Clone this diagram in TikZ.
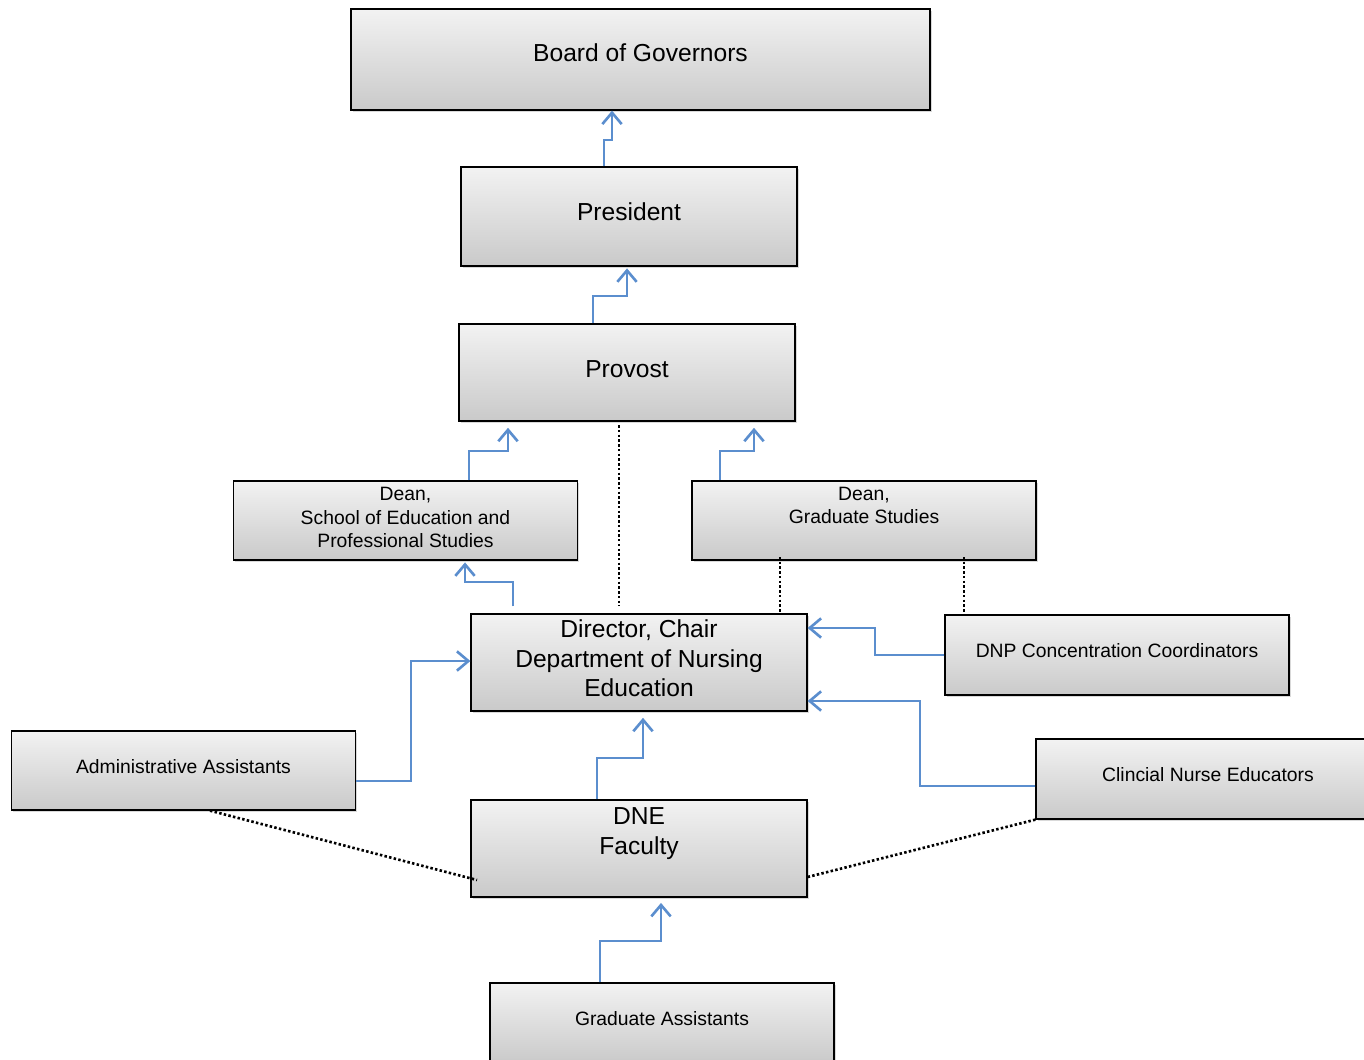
\documentclass[tikz,border=0pt]{standalone}
\usepackage{fontspec}
\setmainfont{Liberation Sans}
\usetikzlibrary{arrows.meta,shadows}

\definecolor{linkblue}{RGB}{91,142,206}

\begin{document}
\begin{tikzpicture}[
    x=0.02cm, y=-0.02cm,
    box/.style={rectangle, draw, line width=0.75pt, top color=black!5, bottom color=black!21,
        drop shadow={shadow xshift=0.9pt, shadow yshift=-0.9pt, opacity=0.3},
        align=center, inner sep=0pt},
    bigbox/.style={box, minimum width=6.72cm, minimum height=1.94cm, font=\fontsize{14}{16.8}\selectfont},
    smallbox/.style={box, minimum width=6.88cm, minimum height=1.58cm, text depth=4.6pt, font=\fontsize{11}{13.2}\selectfont},
    link/.style={draw=linkblue, line width=0.85pt, -{Straight Barb[length=6.5pt, width=11pt, line width=1.5pt]}},
    tie/.style={draw, line width=1.5pt, dash pattern=on 1.4pt off 1.3pt},
]
    \useasboundingbox (0,0) rectangle (1364,1060);
    \clip (0,0) rectangle (1364,1060);

    % boxes
    \node[bigbox, minimum width=11.58cm, minimum height=2.02cm, text depth=8pt] (board) at (640.5,59.5) {Board of Governors};
    \node[bigbox, minimum height=1.98cm, text depth=5.7pt] (president) at (629,216.5) {President};
    \node[bigbox, text depth=3.4pt] (provost) at (627,372.5) {Provost};
    \node[smallbox, text depth=3.4pt] (deanedu) at (405.5,520.5) {Dean,\\School of Education and\\Professional Studies};
    \node[smallbox, text depth=17.3pt] (deangrad) at (864,520.5) {Dean,\\Graduate Studies};
    \node[bigbox, text depth=4.6pt] (director) at (639,662.5) {Director, Chair\\Department of Nursing\\Education};
    \node[smallbox, minimum height=1.6cm] (dnp) at (1117,655) {DNP Concentration Coordinators};
    \node[smallbox] (admin) at (183.5,770.5) {Administrative Assistants};
    \node[smallbox, minimum height=1.6cm] (clinical) at (1208,779) {Clincial Nurse Educators};
    \node[bigbox, text depth=19.6pt] (dne) at (639,848.5) {DNE\\Faculty};
    \node[smallbox, minimum height=1.6cm] (grad) at (662,1023) {Graduate Assistants};

    % reporting lines
    \draw[link] (604,0 |- president.north) |- (612,140) -- (612,0 |- board.south);
    \draw[link, shorten >=1pt] (593,0 |- provost.north) |- (627,296) -- (627,0 |- president.south);
    \draw[link, shorten >=3.5pt] (469,0 |- deanedu.north) |- (508,451) -- (508,0 |- provost.south);
    \draw[link, shorten >=3.5pt] (720,0 |- deangrad.north) |- (754,451) -- (754,0 |- provost.south);
    \draw[link, shorten <=4pt, shorten >=1pt] (513,0 |- director.north) |- (465,582) -- (465,0 |- deanedu.south);
    \draw[link] (admin.east |- 0,781) -| (411,661) -- (director.west |- 0,661);
    \draw[link] (dnp.west |- 0,655) -| (875,628) -- (director.east |- 0,628);
    \draw[link] (clinical.west |- 0,786) -| (920,701) -- (director.east |- 0,701);
    \draw[link, shorten >=3.5pt] (597,0 |- dne.north) |- (643,758) -- (643,0 |- director.south);
    \draw[link, shorten >=3pt] (600,0 |- grad.north) |- (661,941) -- (661,0 |- dne.south);

    % dotted ties
    \draw[tie, shorten <=2pt, shorten >=4pt] (619,0 |- provost.south) -- (619,0 |- director.north);
    \draw[tie] (780,557) -- (780,0 |- director.north);
    \draw[tie] (964,557) -- (964,0 |- dnp.north);
    \draw[tie] (210,0 |- admin.south) -- (477,880);
    \draw[tie] (clinical.south west) -- (dne.east |- 0,877);
\end{tikzpicture}
\end{document}
